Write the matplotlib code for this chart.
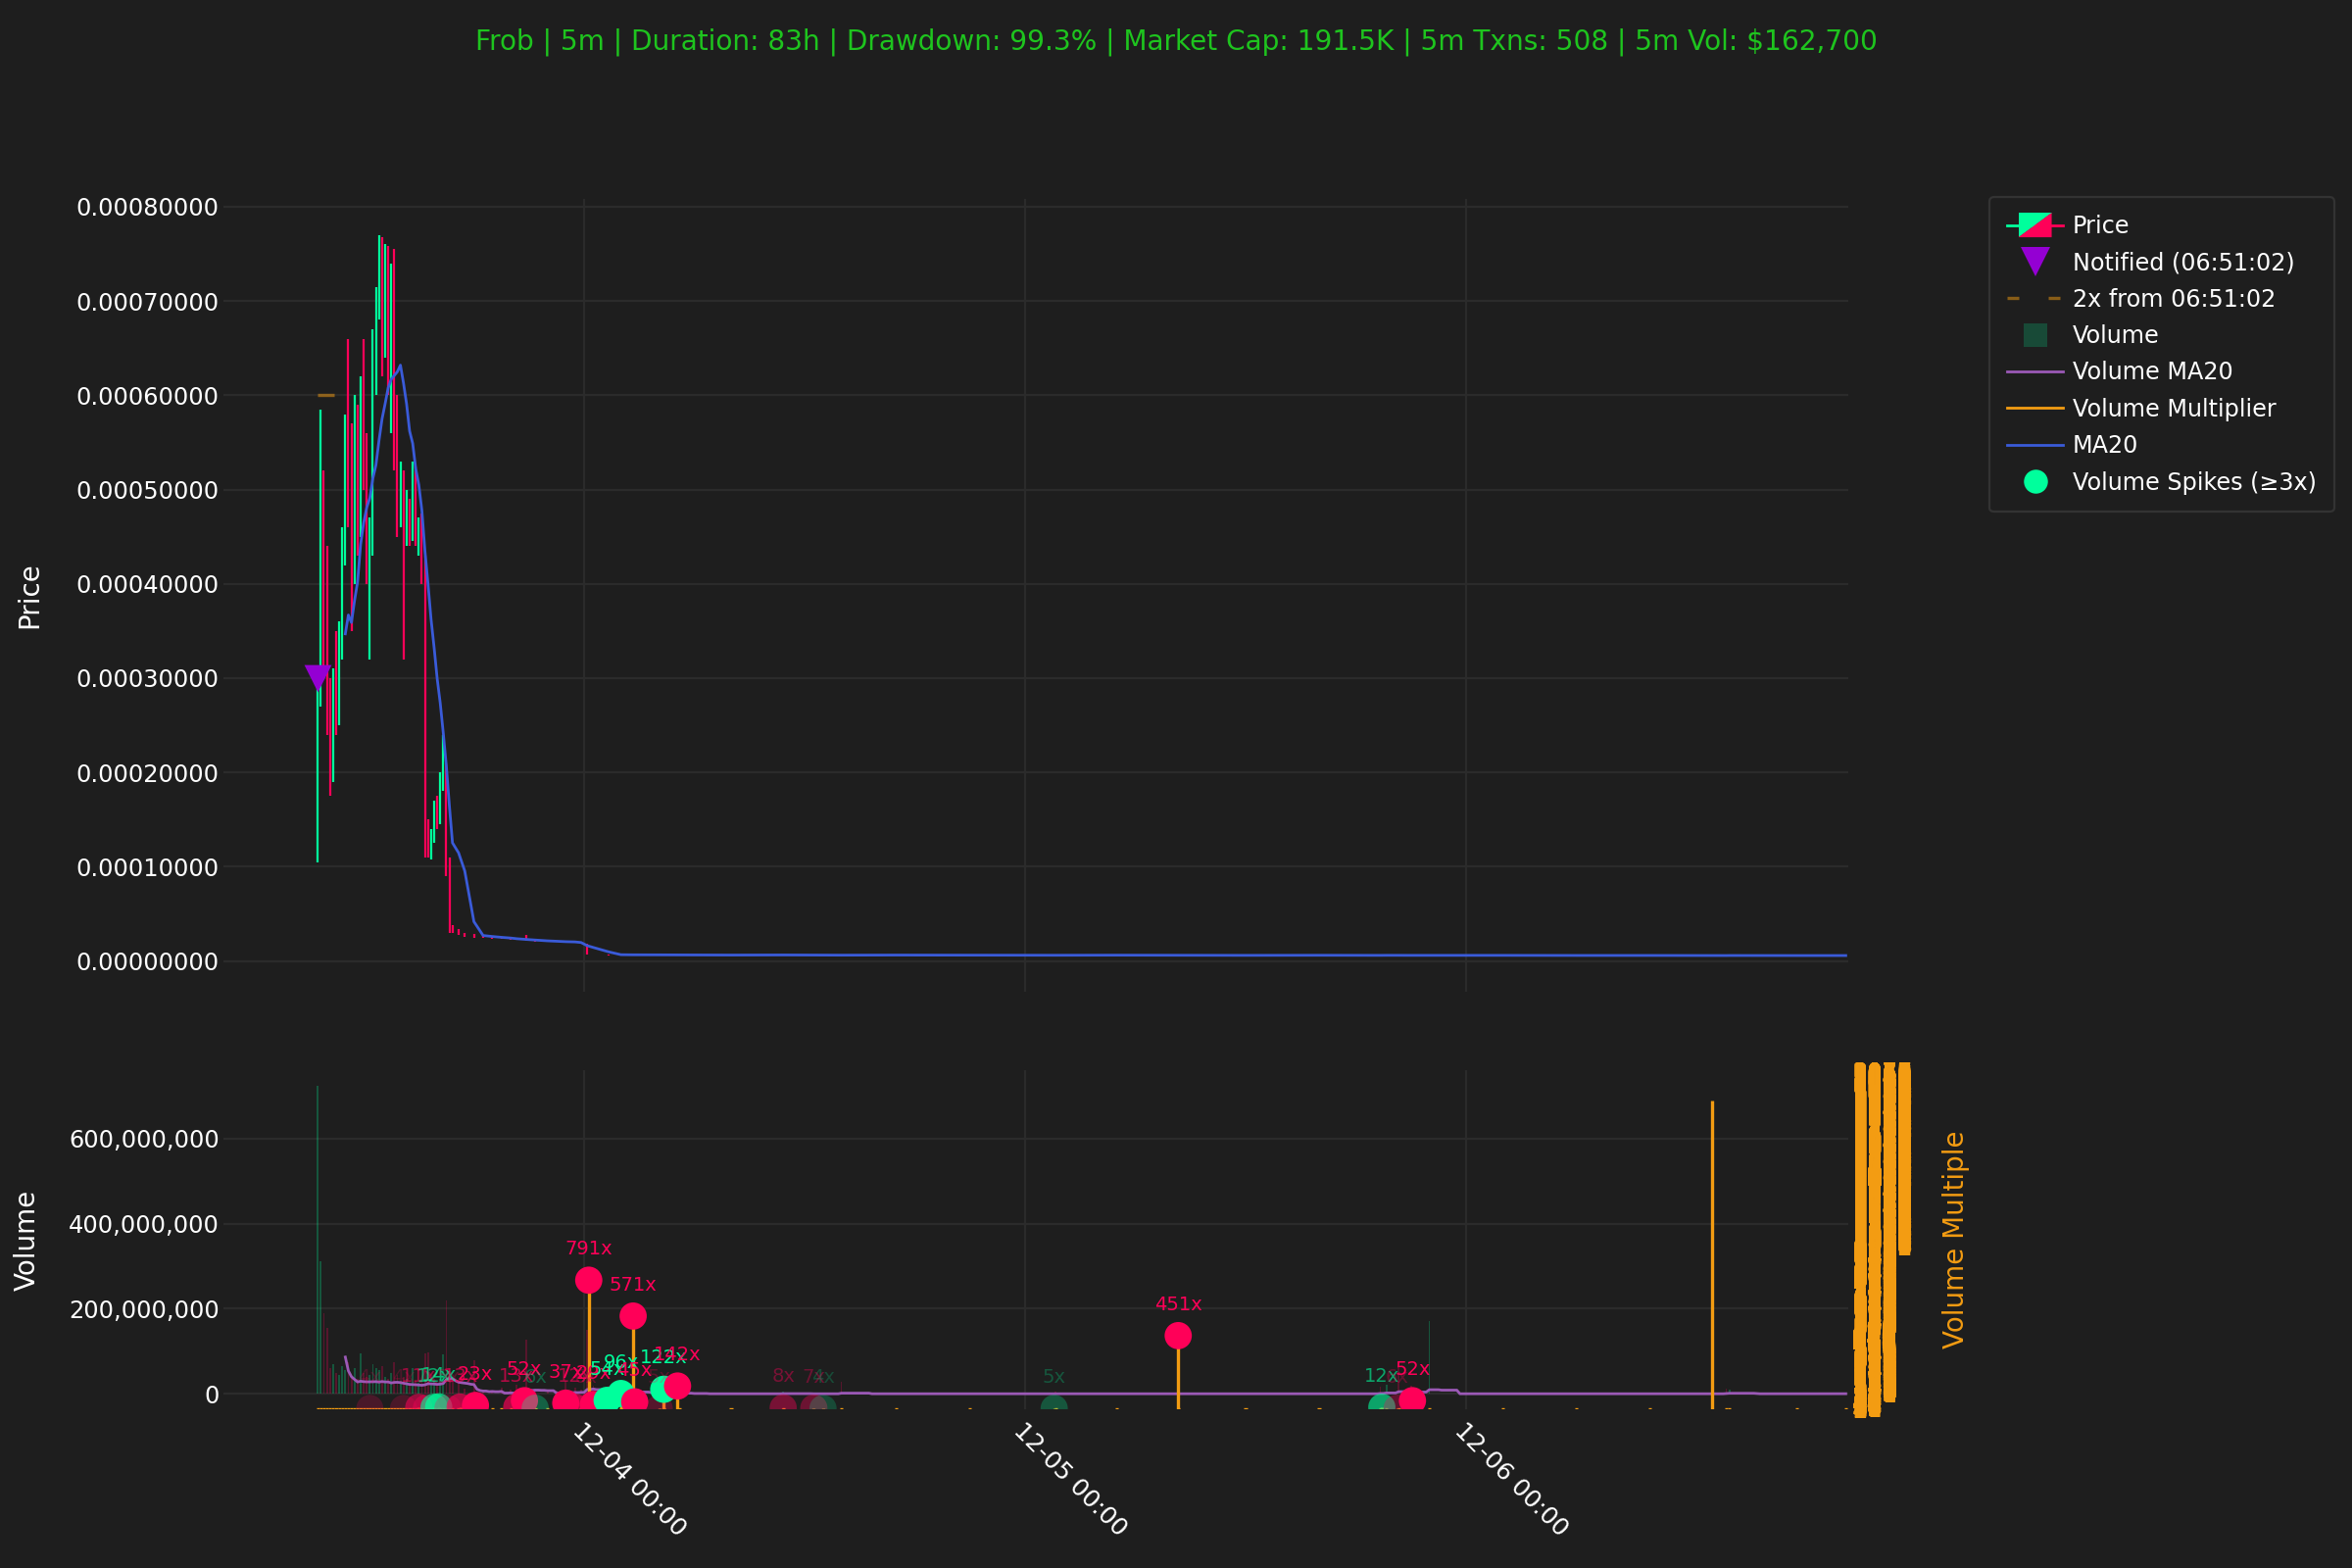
import numpy as np
import pandas as pd
import matplotlib
matplotlib.use("Agg")
import matplotlib.pyplot as plt
import matplotlib.dates as mdates
from matplotlib.ticker import FuncFormatter, MultipleLocator, FixedLocator
from matplotlib.legend_handler import HandlerBase
from matplotlib.lines import Line2D
from matplotlib.patches import Polygon, Patch

BG = "#1e1e1e"
UP = "#00ff9c"
DOWN = "#ff0058"
ORANGE = "#f39c12"
PURPLE = "#9b59b6"
BLUE = "#3a5bd9"
NOTIFY = "#9400d3"
GRID = "#2b2b2b"

title = ("Frob | 5m | Duration: 83h | Drawdown: 99.3% | Market Cap: 191.5K | "
         "5m Txns: 508 | 5m Vol: $162,700")

# --- busy first hours, 10 minute candles from 09:30 ---
active_start = "2024-12-03 09:30"
first_open = 0.000110
active_close = [0.000280, 0.000500, 0.000330, 0.000260, 0.000200, 0.000290, 0.000270, 0.000340, 0.000440, 0.000560,
                0.000480, 0.000420, 0.000560, 0.000460, 0.000600, 0.000520, 0.000430, 0.000440, 0.000650, 0.000700,
                0.000740, 0.000650, 0.000720, 0.000630, 0.000690, 0.000560, 0.000470, 0.000510, 0.000460, 0.000480,
                0.000450, 0.000520, 0.000450, 0.000460, 0.000420, 0.000130, 0.000120, 0.000135, 0.000160, 0.000150,
                0.000190, 0.000200, 0.000100, 0.000035]
active_high = [0.000300, 0.000585, 0.000520, 0.000440, 0.000300, 0.000310, 0.000350, 0.000360, 0.000460, 0.000580,
               0.000660, 0.000570, 0.000600, 0.000590, 0.000620, 0.000660, 0.000560, 0.000470, 0.000670, 0.000715,
               0.000770, 0.000768, 0.000760, 0.000758, 0.000740, 0.000755, 0.000600, 0.000530, 0.000520, 0.000500,
               0.000490, 0.000530, 0.000525, 0.000470, 0.000475, 0.000430, 0.000150, 0.000140, 0.000170, 0.000175,
               0.000200, 0.000240, 0.000210, 0.000110]
active_low = [0.000105, 0.000270, 0.000300, 0.000240, 0.000175, 0.000190, 0.000240, 0.000250, 0.000320, 0.000420,
              0.000460, 0.000350, 0.000400, 0.000430, 0.000450, 0.000500, 0.000400, 0.000320, 0.000430, 0.000600,
              0.000680, 0.000620, 0.000640, 0.000600, 0.000560, 0.000520, 0.000450, 0.000460, 0.000320, 0.000440,
              0.000440, 0.000445, 0.000440, 0.000430, 0.000400, 0.000110, 0.000110, 0.000108, 0.000125, 0.000140,
              0.000145, 0.000180, 0.000090, 0.000030]
active_vol = [725, 312, 190, 155, 60, 70, 50, 45, 65, 55,
              75, 40, 60, 35, 95, 50, 40, 45, 70, 60,
              55, 65, 40, 35, 50, 75, 45, 30, 40, 35,
              25, 60, 30, 25, 35, 95, 97, 25, 30, 20,
              35, 92, 220, 60]  # millions

# --- quieter candles afterwards (only where trades happened) ---
later_time = ["2024-12-03 16:50", "2024-12-03 17:10", "2024-12-03 17:30", "2024-12-03 18:00", "2024-12-03 18:30",
              "2024-12-03 19:00", "2024-12-03 19:30", "2024-12-03 20:00", "2024-12-03 20:20", "2024-12-03 20:50",
              "2024-12-03 21:20", "2024-12-03 22:00", "2024-12-03 22:30", "2024-12-03 23:00", "2024-12-03 23:30",
              "2024-12-03 23:50", "2024-12-04 00:10", "2024-12-04 00:30", "2024-12-04 01:20", "2024-12-04 02:00",
              "2024-12-04 02:40", "2024-12-04 04:20", "2024-12-04 05:10", "2024-12-04 08:00", "2024-12-04 10:50",
              "2024-12-04 14:00", "2024-12-04 17:00", "2024-12-04 21:00", "2024-12-05 01:40", "2024-12-05 05:00",
              "2024-12-05 08:20", "2024-12-05 12:00", "2024-12-05 16:00", "2024-12-05 19:20", "2024-12-05 19:40",
              "2024-12-05 20:20", "2024-12-05 21:00", "2024-12-05 22:00", "2024-12-06 02:00", "2024-12-06 06:00",
              "2024-12-06 10:00", "2024-12-06 14:10", "2024-12-06 14:20", "2024-12-06 18:00", "2024-12-06 20:40"]
later_close = [0.0000330, 0.0000290, 0.0000275, 0.0000262, 0.0000255, 0.0000248, 0.0000240, 0.0000232, 0.0000226, 0.0000218,
               0.0000214, 0.0000210, 0.0000205, 0.0000200, 0.0000195, 0.0000185, 0.0000070, 0.0000068, 0.0000066, 0.0000067,
               0.0000064, 0.0000065, 0.0000064, 0.0000063, 0.0000064, 0.0000062, 0.0000063, 0.0000062, 0.0000061, 0.0000062,
               0.0000061, 0.0000060, 0.0000061, 0.0000060, 0.0000061, 0.0000060, 0.0000059, 0.0000061, 0.0000060, 0.0000059,
               0.0000059, 0.0000058, 0.0000059, 0.0000058, 0.0000058]
later_high = [0.0000380, 0.0000340, 0.0000300, 0.0000285, 0.0000265, 0.0000256, 0.0000250, 0.0000242, 0.0000236, 0.0000280,
              0.0000222, 0.0000216, 0.0000212, 0.0000208, 0.0000202, 0.0000196, 0.0000185, 0.0000072, 0.0000070, 0.0000069,
              0.0000068, 0.0000067, 0.0000066, 0.0000065, 0.0000066, 0.0000065, 0.0000064, 0.0000064, 0.0000063, 0.0000063,
              0.0000064, 0.0000062, 0.0000062, 0.0000062, 0.0000063, 0.0000062, 0.0000061, 0.0000063, 0.0000061, 0.0000060,
              0.0000060, 0.0000060, 0.0000060, 0.0000059, 0.0000059]
later_low = [0.0000300, 0.0000280, 0.0000260, 0.0000250, 0.0000245, 0.0000240, 0.0000232, 0.0000226, 0.0000220, 0.0000210,
             0.0000208, 0.0000204, 0.0000200, 0.0000194, 0.0000190, 0.0000180, 0.0000065, 0.0000064, 0.0000063, 0.0000064,
             0.0000062, 0.0000063, 0.0000062, 0.0000061, 0.0000062, 0.0000060, 0.0000061, 0.0000060, 0.0000059, 0.0000060,
             0.0000059, 0.0000058, 0.0000059, 0.0000058, 0.0000059, 0.0000058, 0.0000057, 0.0000059, 0.0000058, 0.0000057,
             0.0000057, 0.0000056, 0.0000057, 0.0000056, 0.0000056]
later_vol = [35, 28, 12, 78, 10, 8, 14, 9, 22, 127,
             12, 6, 8, 30, 15, 10, 150, 20, 18, 25,
             55, 15, 12, 3, 6, 28, 3, 2, 4, 2,
             5, 2, 3, 16, 22, 60, 20, 170, 3, 2,
             2, 12, 10, 2, 2]  # millions

# --- volume spikes (multiple of the volume MA) ---
spike_time = ["2024-12-03 12:20", "2024-12-03 14:10", "2024-12-03 15:00", "2024-12-03 15:25", "2024-12-03 15:50",
              "2024-12-03 16:05", "2024-12-03 16:35", "2024-12-03 17:15", "2024-12-03 18:05", "2024-12-03 20:20",
              "2024-12-03 20:45", "2024-12-03 21:20", "2024-12-03 23:00", "2024-12-03 23:30", "2024-12-04 00:05",
              "2024-12-04 00:15", "2024-12-04 00:30", "2024-12-04 01:15", "2024-12-04 02:00", "2024-12-04 02:40",
              "2024-12-04 02:45", "2024-12-04 04:05", "2024-12-04 04:20", "2024-12-04 05:05", "2024-12-04 10:50",
              "2024-12-04 12:30", "2024-12-04 13:00", "2024-12-05 01:35", "2024-12-05 08:20", "2024-12-05 19:25",
              "2024-12-05 20:15", "2024-12-05 21:05"]
spike_mult = [4, 4, 11, 7, 12, 14, 5, 13, 23, 13,
              52, 6, 37, 12, 6, 791, 29, 54, 96, 571,
              45, 5, 122, 142, 8, 7, 4, 5, 451, 12,
              6, 52]
spike_up = [False, False, False, False, True, True, False, False, False, False,
            False, True, False, False, False, False, False, True, True, False,
            False, False, True, False, False, False, True, True, False, True,
            False, False]
# one multiplier peak without a spike marker
peak_time = "2024-12-06 13:25"
peak_mult = 1890

notify_time = "2024-12-03 09:30"
notify_price = 0.00030
notify_window = pd.Timedelta(minutes=55)

x_start = "2024-12-03 04:22"
x_end = "2024-12-06 20:48"

# ---------------- build series ----------------
times = pd.date_range(active_start, periods=len(active_close), freq="10min").append(pd.to_datetime(later_time))
close = np.array(active_close + later_close)
high = np.array(active_high + later_high)
low = np.array(active_low + later_low)
vol = np.array(active_vol + later_vol) * 1e6
open_ = np.r_[first_open, close[:-1]]
up = close >= open_

# price MA over a 100 minute window (20 x 5m)
ma = pd.Series(close, index=times).rolling("100min").mean()
ma[times < times[0] + pd.Timedelta(minutes=90)] = np.nan

# volume MA: no trades = zero volume
grid = pd.date_range(times[0], times[-1], freq="10min")
vol_grid = pd.Series(vol, index=times).reindex(grid, fill_value=0)
vol_ma = vol_grid.rolling(10).sum() / 20

t = mdates.date2num(times)
t_grid = mdates.date2num(grid)
bar_w = 6 / 1440

# ---------------- figure ----------------
fig = plt.figure(figsize=(12, 8), dpi=200, facecolor=BG)
ax_p = fig.add_axes([0.095, 0.3675, 0.6908, 0.5056])
ax_v = fig.add_axes([0.095, 0.1013, 0.6908, 0.2162], sharex=ax_p)
ax_m = ax_v.twinx()

for ax in (ax_p, ax_v):
    ax.set_facecolor(BG)
    ax.grid(True, color=GRID, linewidth=0.8)
    ax.set_axisbelow(True)
    for s in ax.spines.values():
        s.set_visible(False)
    ax.tick_params(colors="white", labelsize=8.7, length=0, pad=1.5)
for s in ax_m.spines.values():
    s.set_visible(False)

# candles
col = np.where(up, UP, DOWN)
ax_p.vlines(t, low, high, colors=col, linewidth=0.8, zorder=2)
ax_p.bar(t, np.maximum(np.abs(close - open_), 1e-8), bottom=np.minimum(open_, close),
         width=bar_w, color=col, linewidth=0, zorder=2)
ax_p.plot(t, ma.values, color=BLUE, linewidth=1.0, zorder=3)

tn = mdates.date2num(pd.Timestamp(notify_time))
tn_end = mdates.date2num(pd.Timestamp(notify_time) + notify_window)
ax_p.scatter([tn], [notify_price], marker="v", s=100, color=NOTIFY, zorder=5, linewidths=0)
ax_p.plot([tn, tn_end], [2 * notify_price] * 2, color=ORANGE, alpha=0.5, linewidth=1.2,
          linestyle=(0, (6, 10)), zorder=3)

lo, hi = low.min(), high.max()
ax_p.set_ylim(lo - 0.05 * (hi - lo), hi + 0.05 * (hi - lo))
ax_p.yaxis.set_major_locator(MultipleLocator(0.0001))
ax_p.yaxis.set_major_formatter(FuncFormatter(lambda v, _: f"{v:.8f}"))
ax_p.tick_params(axis="x", labelbottom=False)
ax_p.set_ylabel("Price", color="white", fontsize=10, labelpad=12)

# volume
ax_v.bar(t, vol, width=bar_w, color=col, alpha=0.25, linewidth=0, zorder=2)
ax_v.plot(t_grid, vol_ma.values, color=PURPLE, linewidth=1.0, zorder=3)
vmax = vol.max()
ax_v.set_ylim(-0.05 * vmax, 1.05 * vmax)
ax_v.yaxis.set_major_locator(MultipleLocator(2e8))
ax_v.yaxis.set_major_formatter(FuncFormatter(lambda v, _: f"{v:,.0f}"))
ax_v.set_ylabel("Volume", color="white", fontsize=10, labelpad=10)

ax_v.set_xlim(mdates.date2num(pd.Timestamp(x_start)), mdates.date2num(pd.Timestamp(x_end)))
ax_v.xaxis.set_major_locator(mdates.DayLocator())
ax_v.xaxis.set_major_formatter(mdates.DateFormatter("%m-%d %H:%M"))
ax_v.tick_params(axis="x", pad=3.5, labelsize=9)
for lab in ax_v.get_xticklabels():
    lab.set_rotation(-45)
    lab.set_ha("left")
    lab.set_va("top")
    lab.set_rotation_mode("anchor")

# volume multiplier on the twin axis
ts = mdates.date2num(pd.to_datetime(spike_time))
tp = mdates.date2num(pd.Timestamp(peak_time))
half = 5 / 1440
ax_m.hlines(np.ones(len(t)), t - half, t + half, colors=ORANGE, linewidth=1.2, zorder=2)
ax_m.vlines(np.r_[ts, tp], 0, np.r_[spike_mult, peak_mult], colors=ORANGE, linewidth=1.2, zorder=2)

mult = np.array(spike_mult)
alpha = np.minimum(1.0, mult / 20)
rgba = [matplotlib.colors.to_rgba(UP if u else DOWN, a) for u, a in zip(spike_up, alpha)]
ax_m.scatter(ts, mult, s=100, c=rgba, linewidths=0, zorder=4)
for x, m, c in zip(ts, mult, rgba):
    ax_m.annotate(f"{m}x", (x, m), xytext=(0, 8), textcoords="offset points",
                  ha="center", va="bottom", fontsize=7, color=c, zorder=5)

# the right axis gets a label at every unit, as in the source chart
top = peak_mult * 1.1
ax_m.set_ylim(0, top)
ax_m.yaxis.set_major_locator(FixedLocator(np.arange(0, top, 1)))
ax_m.yaxis.set_major_formatter(FuncFormatter(lambda v, _: f"{v:.0f}"))
ax_m.tick_params(axis="y", colors=ORANGE, labelsize=8.7, length=0, pad=1.5)
ax_m.set_ylabel("Volume Multiple", color=ORANGE, fontsize=10, labelpad=11)


# legend
class CandleHandler(HandlerBase):
    def create_artists(self, legend, orig_handle, xdescent, ydescent, width, height, fontsize, trans):
        x0, y0 = -xdescent, -ydescent
        cx, cy = x0 + width / 2, y0 + height / 2
        bw, bh = fontsize * 1.42, fontsize * 1.05
        bx0, bx1, by0, by1 = cx - bw / 2, cx + bw / 2, cy - bh / 2, cy + bh / 2
        return [Line2D([x0, cx], [cy, cy], color=UP, lw=1, transform=trans),
                Line2D([cx, x0 + width], [cy, cy], color=DOWN, lw=1, transform=trans),
                Polygon([[bx0, by0], [bx0, by1], [bx1, by1]], closed=True, color=UP, lw=0, transform=trans),
                Polygon([[bx0, by0], [bx1, by1], [bx1, by0]], closed=True, color=DOWN, lw=0, transform=trans)]


price_handle = Patch()
handles = [
    price_handle,
    Line2D([], [], marker="v", linestyle="None", markersize=11, color=NOTIFY, markeredgewidth=0),
    Line2D([], [], color=ORANGE, alpha=0.5, linewidth=1.2, linestyle=(0, (3.6, 9))),
    Line2D([], [], marker="s", linestyle="None", markersize=8.6, color=UP, alpha=0.2, markeredgewidth=0),
    Line2D([], [], color=PURPLE, linewidth=1.0),
    Line2D([], [], color=ORANGE, linewidth=1.0),
    Line2D([], [], color=BLUE, linewidth=1.0),
    Line2D([], [], marker="o", linestyle="None", markersize=8.8, color=UP, markeredgewidth=0),
]
labels = ["Price", "Notified (06:51:02)", "2x from 06:51:02", "Volume", "Volume MA20",
          "Volume Multiplier", "MA20", "Volume Spikes (\u22653x)"]
leg = fig.legend(handles, labels, loc="upper left", bbox_to_anchor=(2030 / 2400, 1 - 201 / 1600),
                 borderaxespad=0, fontsize=8.6, handlelength=2.4, handletextpad=0.4,
                 labelspacing=0.56, borderpad=0.75, facecolor=BG, edgecolor="#333333", framealpha=1,
                 labelcolor="white", handler_map={price_handle: CandleHandler()})
leg.get_frame().set_linewidth(0.8)

fig.text(0.5, 0.973, title, ha="center", va="center", color="#1ec41e", fontsize=10.1)

fig.savefig("out.png", dpi=200, facecolor=BG)
